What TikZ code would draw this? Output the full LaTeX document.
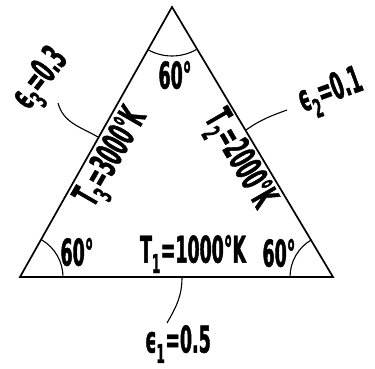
\documentclass[tikz,border=0pt]{standalone}
\usepackage{fontspec}
\newfontfamily\figfont[FakeStretch=0.47,FakeBold=1.2]{DejaVu Sans}
\usetikzlibrary{positioning}
\newcommand\sbs[1]{\textsubscript{#1}}
\tikzset{
  side/.style={line width=1.7pt,line join=miter},
  anglearc/.style={line width=1.1pt},
  leader/.style={line width=1.1pt},
  lab/.style={font=\figfont\bfseries\fontsize{37}{37}\selectfont,inner sep=0pt}
}
\begin{document}
\begin{tikzpicture}[x=1pt,y=1pt]
  \useasboundingbox (0,0) rectangle (375,369);
  % corners
  \coordinate (apex) at (172,362);
  \coordinate (bl) at (20,92);
  \coordinate (br) at (333,92);
  \draw[side] (bl) -- (apex) -- (br) -- cycle;

  % angle marks
  \draw[anglearc] ([shift={(240:49)}]apex) arc[start angle=240,end angle=300,radius=49];
  \draw[anglearc] ([shift={(0:43)}]bl) arc[start angle=0,end angle=60,radius=43];
  \draw[anglearc] ([shift={(120:43)}]br) arc[start angle=120,end angle=180,radius=43];
  \node[lab] (atop) at (175,294) {60°};
  \node[lab] (aleft) at (77,117) {60°};
  \node[lab] (aright) at (279,116) {60°};

  % temperatures
  \node[lab] (t1) at (193,115) {T\sbs{1}=1000°K};
  \node[lab,rotate=60] (t3) at (113,211) {T\sbs{3}=3000°K};
  \node[lab,rotate=-60] (t2) at (238,209) {T\sbs{2}=2000°K};

  % emissivities
  \node[lab,rotate=52] (e3) at (42,289) {ϵ\sbs{3}=0.3};
  \node[lab,rotate=20] (e2) at (331,276) {ϵ\sbs{2}=0.1};
  \node[lab] (e1) at (178,25) {ϵ\sbs{1}=0.5};

  \coordinate (s3) at (98,232); \coordinate (e3end) at (58,266);
  \coordinate (s2) at (246,239); \coordinate (e2end) at (287,259);
  \coordinate (s1) at (182,92); \coordinate (e1end) at (167,46);
  \draw[leader] (e3end) to[out=-75,in=150] (s3);
  \draw[leader] (s2) to[out=35,in=200] (e2end);
  \draw[leader] (s1) to[out=-90,in=60] (e1end);
\end{tikzpicture}
\end{document}
